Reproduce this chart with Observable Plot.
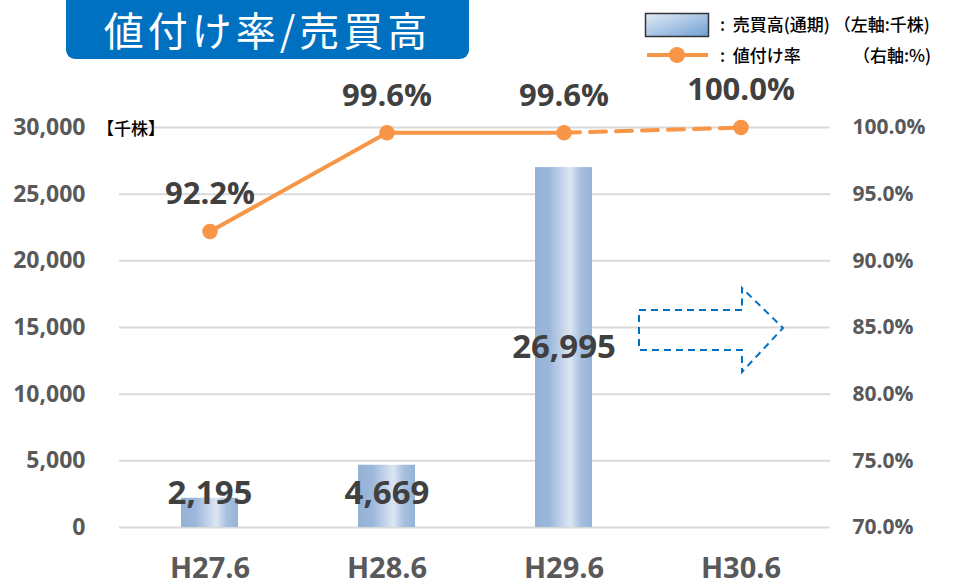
<!DOCTYPE html>
<html><head><meta charset="utf-8">
<script src="https://cdn.jsdelivr.net/npm/d3@7"></script>
<script src="https://cdn.jsdelivr.net/npm/@observablehq/plot@0.6"></script>
<style>
body{margin:0;background:#fff;font-family:"Open Sans","Noto Sans CJK JP",sans-serif;}
#wrap{position:relative;width:956px;height:587px;overflow:hidden;}
#title{position:absolute;left:66px;top:0;width:403px;height:59px;background:#0070C0;border-radius:0 0 9px 9px;color:#fff;font-family:"Noto Sans CJK JP",sans-serif;font-size:40px;line-height:58px;box-sizing:border-box;text-align:center;letter-spacing:4px;}
.leg{position:absolute;font-family:"Noto Sans CJK JP",sans-serif;font-size:17px;font-weight:500;color:#000;white-space:nowrap;}
#unit{position:absolute;left:97px;top:115px;font-family:"Noto Sans CJK JP",sans-serif;font-size:17px;font-weight:500;color:#000;}
svg.ov{position:absolute;left:0;top:0;}
</style></head><body>
<div id="wrap"></div>
<script>
const categories = ["H27.6","H28.6","H29.6","H30.6"];
const volume = [2195, 4669, 26995, null];          // 売買高 (千株)
const volumeLabels = ["2,195","4,669","26,995",null];
const rate = [92.2, 99.6, 99.6, 100.0];            // 値付け率 (%)
const rateLabels = ["92.2%","99.6%","99.6%","100.0%"];
const leftTicks = [0,5000,10000,15000,20000,25000,30000];
const rightTickLabels = ["70.0%","75.0%","80.0%","85.0%","90.0%","95.0%","100.0%"];

const rateMin = 70, rateMax = 100, volMax = 30000;
const toY = p => (p - rateMin) / (rateMax - rateMin) * volMax;

const bars = categories.map((c,i)=>({c, v: volume[i], lab: volumeLabels[i]})).filter(d=>d.v!=null);
const pts = categories.map((c,i)=>({c, r: rate[i], y: toY(rate[i]), lab: rateLabels[i]}));
const solid = pts.slice(0,3), dashed = pts.slice(2,4);

const orange = "#F79646";
const dark = "#404040";
const grey = "#595959";
const font = "'Open Sans','Noto Sans',sans-serif";

const chart = Plot.plot({
  width: 956, height: 587,
  marginLeft: 119, marginRight: 126, marginTop: 127, marginBottom: 60,
  style: {fontFamily: font, background: "transparent", overflow: "visible"},
  x: {domain: categories, paddingInner: 0.68, paddingOuter: 0.34},
  y: {domain: [0, volMax]},
  marks: [
    Plot.gridY(leftTicks, {stroke: "#d9d9d9", strokeWidth: 2, strokeOpacity: 1}),
    Plot.axisY({ticks: leftTicks, tickSize: 0, tickPadding: 34, tickFormat: d3.format(","), label: null, fontSize: 23, fontWeight: "bold", fill: grey}),
    Plot.axisY({anchor: "right", ticks: leftTicks, tickSize: 0, tickPadding: 22, tickFormat: d => rightTickLabels[leftTicks.indexOf(d)], label: null, fontSize: 21, fontWeight: "bold", fill: grey}),
    Plot.axisX({tickSize: 0, tickPadding: 30, label: null, fontSize: 29, fontWeight: "bold", fill: grey}),
    Plot.barY(bars, {x: "c", y: "v", fill: "url(#barGrad)"}),
    Plot.line(solid, {x: "c", y: "y", stroke: orange, strokeWidth: 4}),
    Plot.line(dashed, {x: "c", y: "y", stroke: orange, strokeWidth: 4, strokeDasharray: "16,10"}),
    Plot.dot(pts, {x: "c", y: "y", r: 7, fill: orange, stroke: orange}),
    Plot.text(pts, {x: "c", y: "y", text: "lab", dy: -37, fontSize: 31, fontWeight: "bold", fill: dark}),
    Plot.text(bars, {x: "c", y: d => Math.max(d.v/2, 2550), text: "lab", fontSize: 33, fontWeight: "bold", fill: dark})
  ]
});

// gradient definition for bars
const ns = "http://www.w3.org/2000/svg";
const defs = document.createElementNS(ns, "defs");
defs.innerHTML = `<linearGradient id="barGrad" x1="0" x2="1" y1="0" y2="0">
  <stop offset="0" stop-color="#95B3D7"/>
  <stop offset="0.25" stop-color="#9BB7DA"/>
  <stop offset="0.62" stop-color="#DCE6F2"/>
  <stop offset="0.8" stop-color="#A8C0DE"/>
  <stop offset="1" stop-color="#95B3D7"/>
</linearGradient>
<linearGradient id="legGrad" x1="0" x2="1" y1="0" y2="1">
  <stop offset="0" stop-color="#E4ECF6"/>
  <stop offset="1" stop-color="#6F9FD4"/>
</linearGradient>`;
chart.insertBefore(defs, chart.firstChild);

const wrap = document.getElementById("wrap");
wrap.appendChild(chart);

// title, unit and legend
wrap.insertAdjacentHTML("beforeend", `
<div id="title">値付け率/売買高</div>
<div id="unit">【千株】</div>
<div class="leg" style="left:720px;top:11px;">:&nbsp;&nbsp;売買高(通期) （左軸:千株)</div>
<div class="leg" style="left:720px;top:42px;">:&nbsp;&nbsp;値付け率</div>
<div class="leg" style="left:853px;top:42px;">（右軸:%)</div>
<svg class="ov" width="956" height="587">
  <rect x="645.5" y="13.5" width="63" height="23" fill="url(#legGrad)" stroke="#333" stroke-width="1.5"/>
  <line x1="647" y1="55" x2="708" y2="55" stroke="${orange}" stroke-width="4"/>
  <circle cx="677" cy="55" r="8" fill="${orange}"/>
  <path d="M742,310 L639,310 L639,350 L742,350 L742,372 L783,328 L742,288 Z" fill="none" stroke="#0070C0" stroke-width="2" stroke-dasharray="7,5"/>
</svg>`);
</script>
</body></html>
